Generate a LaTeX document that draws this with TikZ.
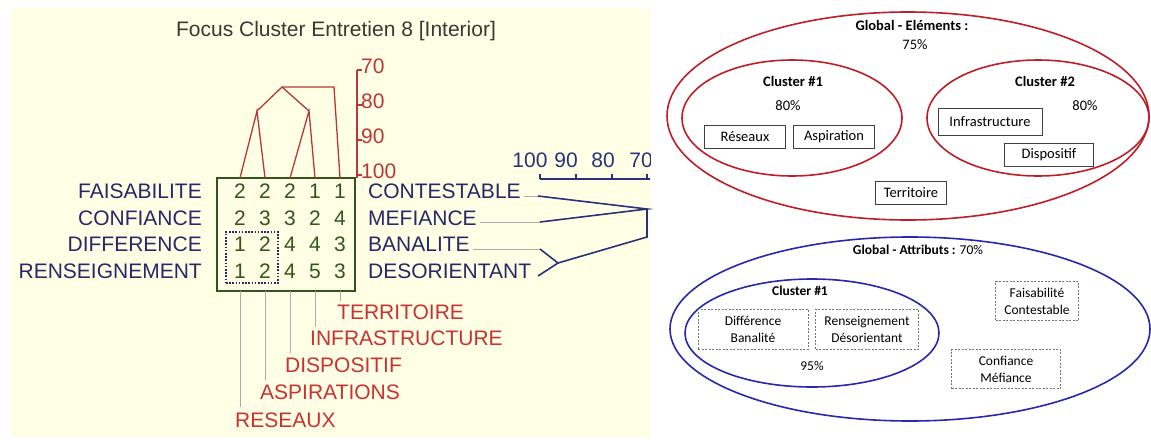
\documentclass[tikz,border=0pt]{standalone}
\usepackage{fontspec}
\setmainfont{Liberation Sans}
\newfontfamily\calib{Carlito}
\definecolor{panel}{RGB}{255,255,230}
\definecolor{navy}{RGB}{40,40,105}
\definecolor{dgreen}{RGB}{50,85,30}
\definecolor{dred}{RGB}{185,55,55}
\definecolor{lred}{RGB}{200,50,50}
\definecolor{lgray}{RGB}{170,170,170}
\definecolor{dblue}{RGB}{40,50,120}
\definecolor{ered}{RGB}{190,30,40}
\definecolor{eblue}{RGB}{40,40,170}
\definecolor{titlec}{RGB}{60,55,50}
\begin{document}
\begin{tikzpicture}[x=1pt,y=-1pt,
  big/.style={font=\fontsize{21}{24}\selectfont, inner sep=0pt},
  lab/.style={big, text=navy},
  dig/.style={big, text=dgreen},
  blab/.style={big, text=lred},
  tree/.style={dred, line width=1.3pt},
  gcon/.style={lgray, line width=1pt},
  bcon/.style={dblue, line width=1.6pt},
  rt/.style={font=\calib\fontsize{14.5}{17}\selectfont, inner sep=0pt},
  rtb/.style={font=\calib\bfseries\fontsize{14.5}{17}\selectfont, inner sep=0pt},
  ebox/.style={rt, draw=black!75, line width=0.8pt, minimum height=23},
  abox/.style={font=\calib\fontsize{13.5}{17}\selectfont, inner sep=0pt, align=center,
     draw=black!55, line width=0.8pt, dash pattern=on 2pt off 1.5pt},
  ell/.style={line width=1.6pt}
]
\useasboundingbox (0,0) rectangle (1151,439);
\fill[white] (0,0) rectangle (1151,439);
\fill[panel] (11,8) rectangle (650,437);

% title
\node[big, text=titlec, anchor=base] (title) at (336,36) {Focus Cluster Entretien 8 [Interior]};

% left labels
\node[lab, anchor=east] (l1) at (202,191) {FAISABILITE};
\node[lab, anchor=east] (l2) at (202,218) {CONFIANCE};
\node[lab, anchor=east] (l3) at (202,244) {DIFFERENCE};
\node[lab, anchor=east] (l4) at (202,271) {RENSEIGNEMENT};
% right labels
\node[lab, anchor=west] (r1) at (368,191) {CONTESTABLE};
\node[lab, anchor=west] (r2) at (368,218) {MEFIANCE};
\node[lab, anchor=west] (r3) at (368,244) {BANALITE};
\node[lab, anchor=west] (r4) at (368,271) {DESORIENTANT};

% grid box
\node[draw=dgreen, line width=1.3pt, minimum width=138, minimum height=113, inner sep=0pt] (box) at (286,234.5) {};
\node[draw=navy, line width=1.6pt, dash pattern=on 1.6pt off 1.6pt, minimum width=52, minimum height=51, inner sep=0pt] (dbox) at (252,257.5) {};

% digits
\foreach \r/\y/\vals in {1/191/{2,2,2,1,1},2/218/{2,3,3,2,4},3/244/{1,2,4,4,3},4/271/{1,2,4,5,3}}{
  \foreach \v [count=\c] in \vals {
    \node[dig] (d\r\c) at (215+25*\c,\y) {\v};
  }
}

% red dendrogram
\coordinate (t1) at (240,178);
\coordinate (t2) at (265,178);
\coordinate (t3) at (290,178);
\coordinate (t4) at (315,178);
\coordinate (t5) at (340,178);
\coordinate (j1) at (257,111);
\coordinate (j2) at (309,111);
\coordinate (j3) at (282,87);
\coordinate (jr) at (334,87);
\draw[tree] (t1) -- (j1) -- (t2);
\draw[tree] (t3) -- (j2) -- (t4);
\draw[tree] (j1) -- (j3) -- (j2);
\draw[tree] (j3) -- (jr) -- (t5);

% red scale
\coordinate (s70) at (357,70);
\coordinate (s100) at (357,178);
\draw[tree] (s70) -- (s100);
\foreach \v/\yy in {70/70,80/105,90/140,100/175}{
  \draw[tree] (357,\yy) -- (362,\yy);
  \node[big, text=dred, anchor=west] (sl\v) at (361,\yy-4) {\v};
}

% bottom labels
\node[blab, anchor=west] (b5) at (337,312) {TERRITOIRE};
\node[blab, anchor=west] (b4) at (310,338) {INFRASTRUCTURE};
\node[blab, anchor=west] (b3) at (285,365) {DISPOSITIF};
\node[blab, anchor=west] (b2) at (260,392) {ASPIRATIONS};
\node[blab, anchor=west] (b1) at (235,420) {RESEAUX};
\coordinate (g1) at (240,291); \coordinate (e1) at (240,407);
\coordinate (g2) at (265,291); \coordinate (e2) at (265,380);
\coordinate (g3) at (290,291); \coordinate (e3) at (290,353);
\coordinate (g4) at (315,291); \coordinate (e4) at (315,327);
\coordinate (g5) at (340,291); \coordinate (e5) at (340,301);
\foreach \i in {1,...,5}{ \draw[gcon] (g\i) -- (e\i); }

% blue dendrogram
\begin{scope}
\clip (11,8) rectangle (650,437);
\draw[dblue, line width=1.3pt] (540,179) -- (652,179);
\foreach \xx in {540,576,612,647}{ \draw[dblue, line width=1.3pt] (\xx,179) -- (\xx,174); }
\node[big, text=dblue] (sc100) at (530,160) {100};
\node[big, text=dblue] (sc90) at (566,160) {90};
\node[big, text=dblue] (sc80) at (603,160) {80};
\node[big, text=dblue] (sc70) at (641,160) {70};
\end{scope}
\coordinate (c1a) at (538,196);
\coordinate (c2a) at (540,222);
\coordinate (c3a) at (540,249);
\coordinate (c4a) at (538,276);
\coordinate (jA) at (647,209);
\coordinate (jB) at (558,263);
\coordinate (jC) at (647,237);
\draw[gcon] (r1.east) ++(3,5) -- (c1a);
\draw[gcon] (r2.east) ++(3,4) -- (c2a);
\draw[gcon] (r3.east) ++(3,5) -- (c3a);
\draw[bcon] (c1a) -- (jA) -- (c2a);
\draw[bcon] (c3a) -- (jB) -- (c4a);
\draw[bcon] (jB) -- (jC) -- (jA);

% ===== right panel: elements =====
\draw[ered, ell] (908,116) ellipse [x radius=241, y radius=104];
\draw[ered, ell] (792,118) ellipse [x radius=110, y radius=58];
\draw[ered, ell] (1038,118) ellipse [x radius=111, y radius=58];
\node[rtb] (ge) at (912,25) {Global - Eléments :};
\node[rt] (ge75) at (915,45) {75\%};
\node[rtb] (c1) at (793,81) {Cluster \#1};
\node[rt] (c1p) at (788,106) {80\%};
\node[rtb] (c2) at (1045,81) {Cluster \#2};
\node[rt] (c2p) at (1085,106) {80\%};
\node[ebox, minimum width=81] (res) at (745,137) {Réseaux};
\node[ebox, minimum width=81] (asp) at (834,137) {Aspiration};
\node[ebox, minimum width=104, minimum height=27] (inf) at (990,122) {Infrastructure};
\node[ebox, minimum width=89] (dis) at (1049,155) {Dispositif};
\node[ebox, minimum width=71] (ter) at (911,193) {Territoire};

% ===== right panel: attributes =====
\draw[eblue, ell] (910,329) ellipse [x radius=240, y radius=92];
\draw[eblue, ell] (812,333) ellipse [x radius=127, y radius=54];
\node[font=\calib\fontsize{13.5}{17}\selectfont, inner sep=0pt] (ga) at (918,250) {\textbf{Global - Attributs :} 70\%};
\node[font=\calib\bfseries\fontsize{13.5}{17}\selectfont, inner sep=0pt] (ac1) at (800,291) {Cluster \#1};
\node[abox, minimum width=110, minimum height=40] (dif) at (753,329) {Différence\\Banalité};
\node[abox, minimum width=103, minimum height=40] (ren) at (867,329) {Renseignement\\Désorientant};
\node[abox, minimum width=83, minimum height=39] (fai) at (1037,301) {Faisabilité\\Contestable};
\node[abox, minimum width=109, minimum height=39] (con) at (1006,369) {Confiance\\Méfiance};
\node[font=\calib\fontsize{13.5}{17}\selectfont, inner sep=0pt] (p95) at (812,366) {95\%};
\end{tikzpicture}
\end{document}
